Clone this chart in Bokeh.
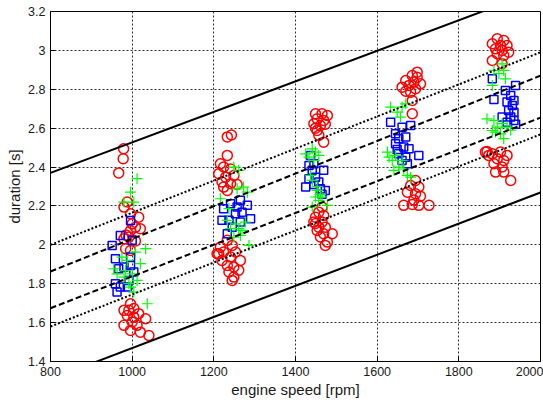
from bokeh.plotting import figure
from bokeh.models import Range1d, FixedTicker
from bokeh.embed import file_html
from bokeh.resources import INLINE

# ---------------- data ----------------
x_ticks = [800, 1000, 1200, 1400, 1600, 1800, 2000]
y_ticks = [1.4, 1.6, 1.8, 2.0, 2.2, 2.4, 2.6, 2.8, 3.0, 3.2]
y_tick_labels = ["1.4", "1.6", "1.8", "2", "2.2", "2.4", "2.6", "2.8", "3", "3.2"]

red_rpm = [979, 978, 967, 988, 980, 996, 1016, 1000, 1020, 996, 992, 980, 1008, 984, 996, 1008, 985,
           996, 980, 1004, 1016, 988, 1033, 1000, 980, 1012, 996, 1020, 1041, 1004, 992,
           1233, 1243, 1233, 1216, 1224, 1241, 1212, 1229, 1249, 1220, 1241, 1233, 1224, 1257,
           1233, 1216, 1245, 1224, 1212, 1253, 1220, 1241, 1265, 1233, 1249, 1261, 1237, 1249, 1245, 1208,
           1449, 1465, 1478, 1453, 1469, 1445, 1461, 1473, 1453, 1457, 1449, 1469,
           1465, 1457, 1449, 1469, 1445, 1465, 1457, 1473, 1453, 1490, 1469, 1461, 1478, 1473, 1449,
           1686, 1698, 1670, 1690, 1706, 1678, 1661, 1694, 1682, 1670, 1686, 1686, 1698,
           1694, 1682, 1702, 1674, 1694, 1706, 1665, 1686, 1702, 1727, 1690,
           1894, 1910, 1882, 1902, 1918, 1890, 1906, 1922, 1894, 1910, 1882, 1906,
           1865, 1882, 1902, 1918, 1873, 1894, 1910, 1886, 1906, 1890, 1910, 1927, 1869]
red_dur = [2.494, 2.443, 2.37, 2.22, 2.194, 2.16, 2.142, 2.108, 2.083, 2.074, 2.04, 2.031, 2.02, 1.98, 1.971, 2.09, 2.05,
           1.697, 1.663, 1.672, 1.646, 1.637, 1.62, 1.603, 1.586, 1.586, 1.56, 1.551, 1.534, 1.628, 1.663,
           2.555, 2.565, 2.46, 2.417, 2.4, 2.39, 2.366, 2.348, 2.357, 2.323, 2.314, 2.28, 2.297, 2.31,
           2.023, 1.988, 1.997, 1.963, 1.954, 1.963, 1.92, 1.937, 1.92, 1.894, 1.886, 1.869, 1.86, 1.834, 1.817, 1.954,
           2.674, 2.674, 2.665, 2.648, 2.64, 2.623, 2.614, 2.62, 2.588, 2.563, 2.6, 2.528,
           2.194, 2.168, 2.142, 2.151, 2.117, 2.117, 2.091, 2.091, 2.074, 2.057, 2.057, 2.04, 2.014, 1.997, 2.11,
           2.871, 2.862, 2.845, 2.837, 2.828, 2.82, 2.811, 2.803, 2.785, 2.79, 2.742, 2.674, 2.888,
           2.331, 2.305, 2.297, 2.271, 2.263, 2.25, 2.203, 2.208, 2.203, 2.203, 2.23,
           3.06, 3.051, 3.034, 3.025, 3.025, 3.008, 3.0, 2.991, 2.983, 2.974, 2.948, 2.931,
           2.477, 2.468, 2.477, 2.46, 2.46, 2.443, 2.434, 2.417, 2.4, 2.374, 2.374, 2.331, 2.48]

blue_rpm = [951, 971, 959, 980, 967, 996, 1004, 959, 963, 992, 988, 1000, 996, 971, 996,
            1224, 1220, 1237, 1282, 1290, 1265, 1253, 1265, 1245, 1257, 1241, 1269, 1233,
            1445, 1433, 1469, 1441, 1433, 1449, 1425, 1457, 1461, 1473, 1445, 1437, 1465,
            1633, 1645, 1661, 1682, 1653, 1670, 1645, 1665, 1678, 1702, 1653, 1670, 1661, 1649, 1674,
            1882, 1886, 1939, 1914, 1927, 1935, 1918, 1931, 1922, 1935, 1906, 1927, 1935, 1918, 1939]
blue_dur = [1.997, 2.048, 1.929, 1.886, 1.877, 1.894, 1.86, 1.8, 1.757, 1.817, 1.783, 2.023, 2.125, 1.783, 1.937,
            2.186, 2.126, 2.126, 2.203, 2.134, 2.229, 2.16, 2.117, 2.091, 2.194, 2.211, 2.168, 2.057,
            2.417, 2.408, 2.383, 2.383, 2.34, 2.348, 2.297, 2.323, 2.288, 2.28, 2.31, 2.46, 2.26,
            2.631, 2.571, 2.605, 2.614, 2.546, 2.554, 2.52, 2.503, 2.494, 2.46, 2.468, 2.451, 2.434, 2.49, 2.417,
            2.854, 2.748, 2.82, 2.794, 2.768, 2.742, 2.734, 2.717, 2.691, 2.682, 2.657, 2.657, 2.64, 2.631, 2.62]

green_rpm = [1012, 996, 980, 1004, 1033, 1020, 955, 975, 988, 1000, 1012, 980, 992, 1004, 1037, 1008, 963, 996, 984,
             1249, 1261, 1273, 1282, 1216, 1257, 1237, 1253, 1261, 1241, 1277, 1269, 1286, 1249, 1233, 1265,
             1425, 1441, 1449, 1433, 1457, 1445, 1437, 1441, 1453, 1449, 1457, 1465, 1478, 1441, 1461, 1453,
             1633, 1661, 1649, 1670, 1657, 1625, 1645, 1661, 1637, 1653, 1641, 1674, 1629, 1665, 1682,
             1906, 1910, 1886, 1898, 1914, 1882, 1869, 1886, 1906, 1894, 1918, 1882, 1902, 1910, 1890, 1927]
green_dur = [2.34, 2.271, 2.22, 2.22, 1.98, 1.903, 1.877, 1.937, 1.92, 1.851, 1.817, 1.834, 1.8, 1.757, 1.697, 1.963, 1.851, 1.783, 1.868,
             2.4, 2.383, 2.297, 2.271, 2.237, 2.288, 2.186, 2.108, 2.083, 2.083, 2.117, 2.074, 1.997, 2.04, 2.126, 2.048,
             2.468, 2.494, 2.477, 2.451, 2.46, 2.434, 2.357, 2.331, 2.28, 2.246, 2.228, 2.246, 2.203, 2.194, 2.26, 2.3,
             2.708, 2.708, 2.682, 2.725, 2.657, 2.477, 2.46, 2.434, 2.434, 2.4, 2.383, 2.357, 2.451, 2.39, 2.348,
             2.931, 2.897, 2.897, 2.88, 2.854, 2.82, 2.648, 2.64, 2.623, 2.605, 2.605, 2.588, 2.571, 2.546, 2.58, 2.59]

# straight reference lines, given by their value at 800 and at 2000 rpm
line_rpm = [800, 2000]
upper_solid = [2.37, 3.312]
upper_dotted = [2.0, 2.99]
upper_dashed = [1.863, 2.87]
lower_dashed = [1.674, 2.654]
lower_dotted = [1.58, 2.568]
lower_solid = [1.309, 2.269]

# ---------------- figure ----------------
FONT = "Liberation Sans"
p = figure(width=543, height=403,
           x_range=Range1d(800, 2000), y_range=Range1d(1.4, 3.2),
           output_backend="svg", toolbar_location=None,
           min_border_left=50, min_border_right=3, min_border_top=11, min_border_bottom=42)
p.background_fill_color = "white"
p.border_fill_color = "white"
p.outline_line_color = "black"
p.outline_line_width = 1

p.xaxis.ticker = FixedTicker(ticks=x_ticks)
p.yaxis.ticker = FixedTicker(ticks=y_ticks)
p.yaxis.major_label_overrides = {t: l for t, l in zip(y_ticks, y_tick_labels)}

for ax in (p.xaxis[0], p.yaxis[0]):
    ax.axis_line_color = "black"
    ax.major_tick_line_color = "black"
    ax.major_tick_in = 5
    ax.major_tick_out = 0
    ax.minor_tick_line_color = None
    ax.major_label_text_font = FONT
    ax.major_label_text_font_size = "12.5px"
    ax.major_label_text_color = "#1a1a1a"
    ax.major_label_standoff = 5
    ax.axis_label_text_font = FONT
    ax.axis_label_text_font_style = "normal"
    ax.axis_label_text_font_size = "15px"
    ax.axis_label_text_color = "#1a1a1a"
    ax.axis_label_standoff = 2

p.xaxis.axis_label = "engine speed [rpm]"
p.yaxis.axis_label = "duration [s]"

p.grid.grid_line_color = "#303030"
p.grid.grid_line_dash = "2 2"
p.grid.grid_line_width = 1

# points
p.scatter(red_rpm, red_dur, marker="circle", size=10, fill_color=None,
          line_color="#ff0000", line_width=1.5)
p.scatter(blue_rpm, blue_dur, marker="square", size=8, fill_color=None,
          line_color="#0000ff", line_width=1.5)
p.scatter(green_rpm, green_dur, marker="cross", size=11, fill_color=None,
          line_color="#00ff00", line_width=1.2)

# lines
p.line(line_rpm, upper_solid, line_color="black", line_width=2)
p.line(line_rpm, lower_solid, line_color="black", line_width=2)
p.line(line_rpm, upper_dashed, line_color="black", line_width=2, line_dash="6 3")
p.line(line_rpm, lower_dashed, line_color="black", line_width=2, line_dash="6 3")
p.line(line_rpm, upper_dotted, line_color="black", line_width=2, line_dash="2 2")
p.line(line_rpm, lower_dotted, line_color="black", line_width=2, line_dash="2 2")

open("out.html", "w").write(file_html(p, INLINE))
